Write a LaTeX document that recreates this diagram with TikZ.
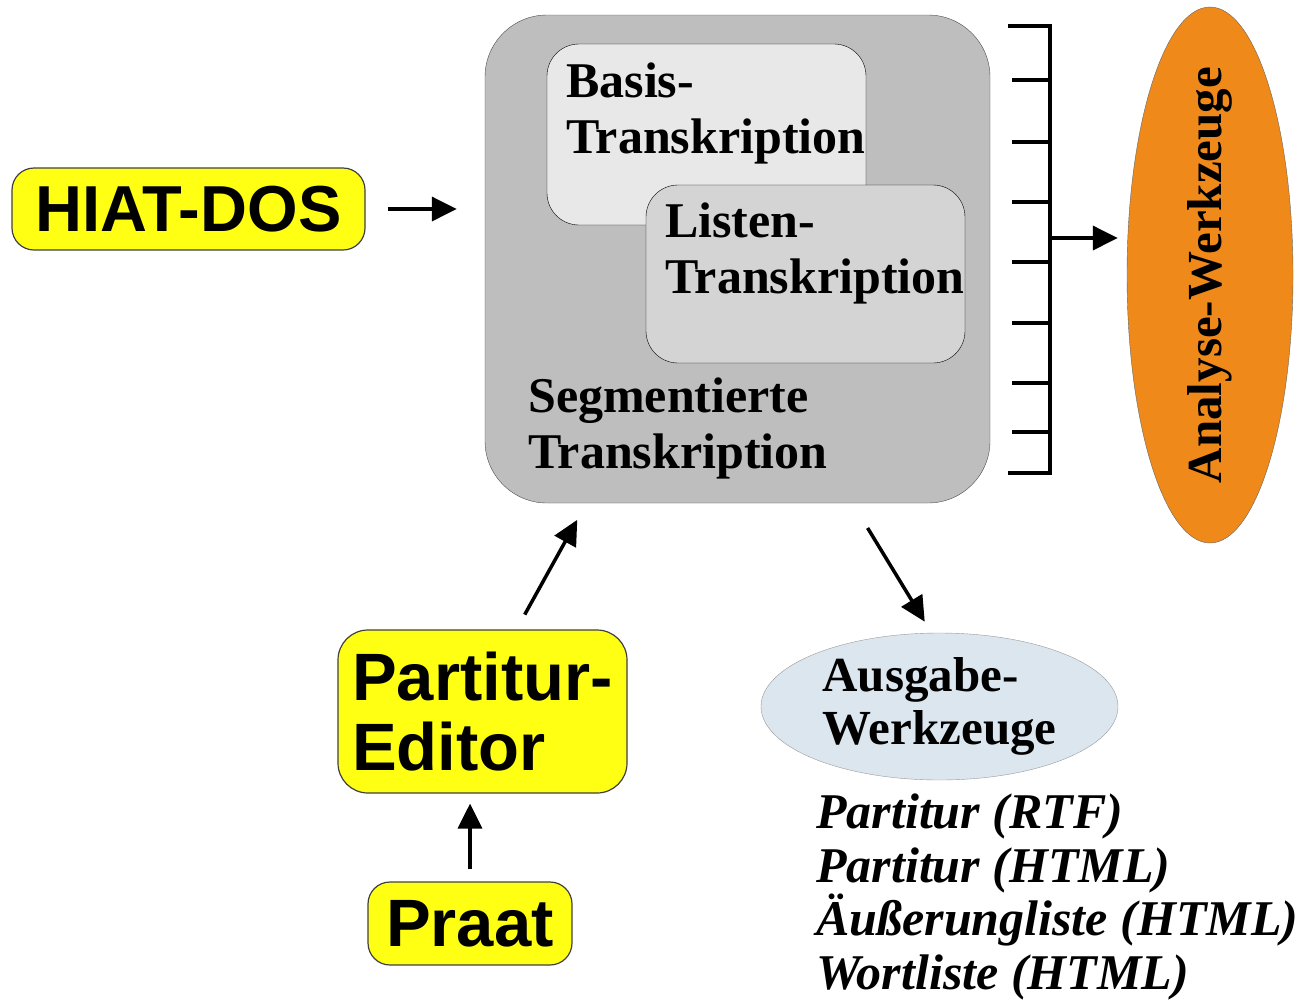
\documentclass[tikz,border=0pt]{standalone}
\usepackage{fontspec}
\setmainfont{Liberation Serif}
\setsansfont{Liberation Sans}
\usepackage{tikz}
\usetikzlibrary{arrows.meta}
\usetikzlibrary{shapes}
\usetikzlibrary{positioning}

\definecolor{segfill}{RGB}{190,190,190}
\definecolor{basisfill}{RGB}{232,232,232}
\definecolor{listfill}{RGB}{212,212,212}
\definecolor{yellowfill}{RGB}{255,255,20}
\definecolor{orangefill}{RGB}{239,137,26}
\definecolor{ausgfill}{RGB}{220,230,239}

\tikzset{
    ybox/.style={draw=black!75, line width=1.2pt, fill=yellowfill, rounded corners=22pt, inner sep=0pt, align=left},
    sanslabel/.style={font=\fontsize{#1}{70}\selectfont\sffamily\bfseries},
    seriflabel/.style={anchor=north west, align=left, inner sep=0pt, font=\fontsize{50}{56}\selectfont\bfseries}
}

\begin{document}
\begin{tikzpicture}[x=1pt,y=-1pt]
    \useasboundingbox (0,0) rectangle (1306,1002);
        \begin{scope}[every node/.style={draw=black,rounded corners=32pt,inner sep=0pt}]
            \node[fill=segfill, draw=black!70, rounded corners=62pt, minimum width=505pt, minimum height=488pt] (seg) at (737.5,259) {};
            \node[fill=basisfill, minimum width=319pt, minimum height=181pt] (basis) at (706.5,134.5) {};
            \node[fill=listfill, minimum width=319pt, minimum height=178pt] (listen) at (805.5,274) {};
        \end{scope}
        \node[seriflabel] (basis-txt) at (566,63) {Basis-\\Transkription};
        \node[seriflabel] (listen-txt) at (665,203) {Listen-\\Transkription};
        \node[seriflabel] (seg-txt) at (528,378) {Segmentierte\\Transkription};

        \node[ybox, sanslabel=65, minimum width=353pt, minimum height=82pt] (hiat) at (188.5,209) {HIAT-DOS};
        \node[ybox, sanslabel=67, rounded corners=30pt, minimum width=289pt, minimum height=163pt] (partitur) at (482.5,711.5) {Partitur-\\Editor};
        \node[ybox, sanslabel=67, minimum width=204pt, minimum height=83pt] (praat) at (470,923.5) {Praat};

        \node[ellipse, fill=orangefill, draw=black!60, minimum width=166pt, minimum height=536pt, inner sep=0pt] (analyse) at (1210,275) {};
        \node[rotate=90, inner sep=0pt, font=\fontsize{49}{56}\selectfont\bfseries] (analyse-txt) at (analyse) {Analyse-Werkzeuge};
        \node[ellipse, fill=ausgfill, draw=black!40, minimum width=357pt, minimum height=147pt, inner sep=0pt, align=left,
            font=\fontsize{49}{53}\selectfont\bfseries] (ausgabe) at (939.5,706.5) {Ausgabe-\\Werkzeuge};
        \node[anchor=north west, align=left, inner sep=0pt, font=\fontsize{50}{53.5}\selectfont\bfseries\itshape]
            (formats) at (816,794) {Partitur (RTF)\\Partitur (HTML)\\Äußerungliste (HTML)\\Wortliste (HTML)};

        % comb in front of the analysis tools
        \draw[line width=3.5pt] (1008,26) -- (1050,26) -- (1050,473) -- (1008,473);
        \foreach \y in {80,142,202,262,323,383,432}
            \draw[line width=3.5pt] (1012,\y) -- (1050,\y);
        \coordinate (combout) at (1050,238);

        \begin{scope}[>={Triangle[length=25pt,width=24pt]},
            every edge/.style={draw=black,line width=3.5pt}]
            \path [->] (hiat) edge[shorten <=22pt, shorten >=28pt] (hiat -| seg.west);
            \path [->] ([xshift=34pt]partitur.north) edge[shorten <=17pt, shorten >=19pt] ([xshift=-151pt]seg.south);
            \path [->] (praat) edge[shorten <=12pt, shorten >=10pt] (praat |- partitur.south);
            \path [->] ([xshift=115pt]seg.south) edge[shorten <=29pt, shorten >=13pt] ([xshift=-8pt]ausgabe.north);
            \path [->] (combout) edge[shorten >=9pt] (combout -| analyse.west);
        \end{scope}
    \end{tikzpicture}
\end{document}
